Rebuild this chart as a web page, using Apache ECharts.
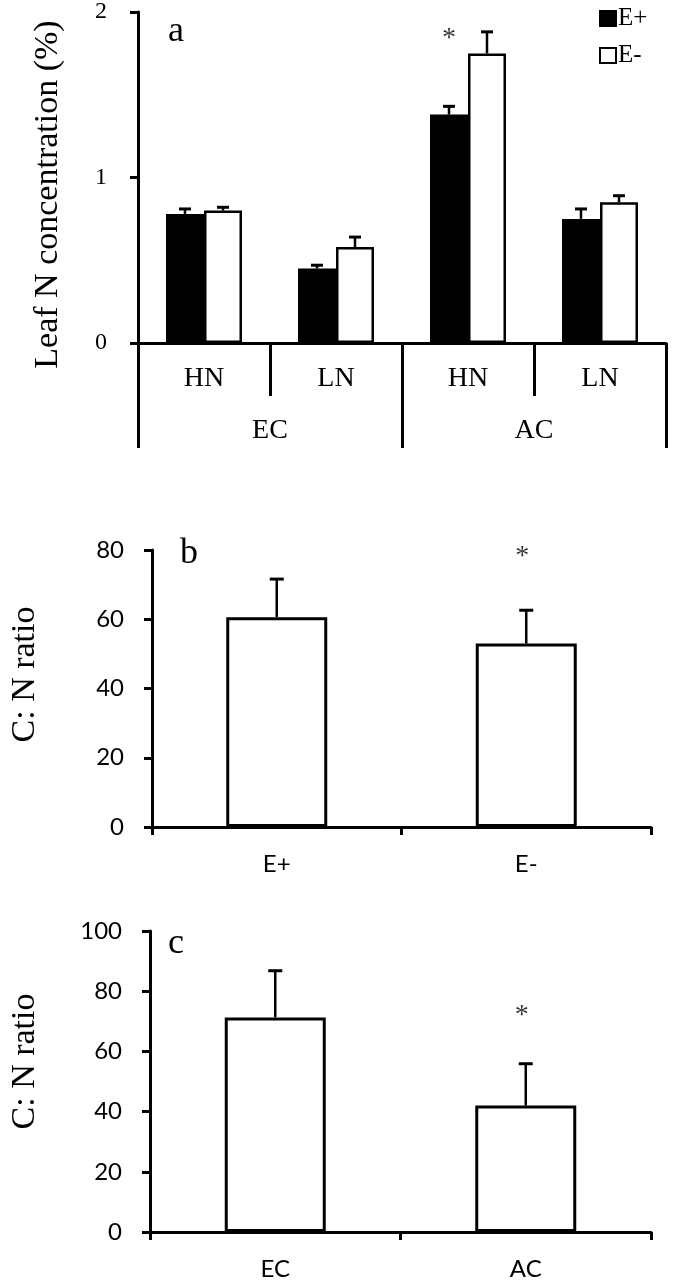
<!DOCTYPE html>
<html>
<head>
<meta charset="utf-8">
<script src="https://cdn.jsdelivr.net/npm/echarts@6/dist/echarts.min.js"></script>
<style>
  html, body { margin: 0; padding: 0; background: #fff; }
  #chart { width: 675px; height: 1285px; }
</style>
</head>
<body>
<div id="chart"></div>
<script>
// panel a: leaf N concentration
const nLevels = ['HN', 'LN', 'HN', 'LN'];
const co2Levels = ['EC', 'AC'];
const ePlus = [0.78, 0.45, 1.38, 0.75];
const ePlusErr = [0.03, 0.02, 0.05, 0.06];
const eMinus = [0.80, 0.58, 1.75, 0.85];
const eMinusErr = [0.02, 0.06, 0.13, 0.04];
const aTicks = [0, 2, 1];          // min, max, interval
const aStar = [[2, 1.84]];         // over AC-HN E+

// panel b: C:N ratio by endophyte
const endoCats = ['E+', 'E-'];
const endoCN = [60.6, 53.0];
const endoErr = [11.0, 9.6];
const bTicks = [0, 80, 20];
const bStar = [[1, 78]];

// panel c: C:N ratio by CO2
const co2Cats = ['EC', 'AC'];
const co2CN = [71.3, 42.0];
const co2Err = [15.5, 13.9];
const cTicks = [0, 100, 20];
const cStar = [[1, 72]];

const serif = '"Liberation Serif", "Times New Roman", serif';
const sans = 'Lato, "Liberation Sans", sans-serif';
const barW = 38;

const chart = echarts.init(document.getElementById('chart'));

function errRender(offset, cap) {
  return function (params, api) {
    const x = api.value(0), v = api.value(1), e = api.value(2);
    const base = api.coord([x, v]);
    const top = api.coord([x, v + e]);
    const cx = base[0] + offset;
    return {
      type: 'group',
      children: [
        { type: 'line', shape: { x1: cx, y1: base[1], x2: cx, y2: top[1] }, style: { stroke: '#000', lineWidth: 2.5 } },
        { type: 'line', shape: { x1: cx - cap / 2, y1: top[1], x2: cx + cap / 2, y2: top[1] }, style: { stroke: '#000', lineWidth: 3 } }
      ]
    };
  };
}

const withIdx = (vals, errs) => vals.map((v, i) => [i, v, errs[i]]);

// namePad shifts the rotated axis title along the axis (right pad = down, left pad = up)
function valueAxis(gridIndex, t, font, size, margin, name, nameGap, namePad) {
  return {
    type: 'value', gridIndex, min: t[0], max: t[1], interval: t[2],
    splitLine: { show: false },
    axisLine: { show: true, lineStyle: { color: '#000', width: 3 } },
    axisTick: { show: true, length: 8, lineStyle: { color: '#000', width: 3 } },
    axisLabel: { color: '#000', fontFamily: font, fontSize: size, margin },
    name, nameLocation: 'middle', nameGap,
    nameTextStyle: { color: '#000', fontFamily: serif, fontSize: 34, padding: namePad }
  };
}

function catAxis(gridIndex, data, font, size, margin, tickLen, showLine) {
  return {
    type: 'category', gridIndex, data, position: 'bottom',
    axisLine: { show: showLine, lineStyle: { color: '#000', width: 3 } },
    axisTick: { show: true, length: tickLen, interval: 0, lineStyle: { color: '#000', width: 3 } },
    axisLabel: { color: '#000', fontFamily: font, fontSize: size, margin, interval: 0 }
  };
}

function starSeries(xi, yi, data, offX) {
  return {
    type: 'scatter', xAxisIndex: xi, yAxisIndex: yi, data,
    symbolSize: 1, itemStyle: { color: 'rgba(0,0,0,0)' }, silent: true,
    label: { show: true, position: 'inside', formatter: '*', offset: [offX, 0],
      color: '#000', fontFamily: serif, fontSize: 28 }
  };
}

chart.setOption({
  backgroundColor: '#fff',
  animation: false,
  grid: [
    { left: 138, top: 12, width: 528, height: 331 },
    { left: 148, top: 550, width: 503, height: 277 },
    { left: 143, top: 931, width: 508, height: 301 }
  ],
  legend: {
    left: 599, top: 6, padding: 0, orient: 'vertical', itemGap: 12,
    itemWidth: 16, itemHeight: 15, icon: 'rect',
    textStyle: { color: '#000', fontFamily: serif, fontSize: 25, padding: [0, 0, 0, -3] },
    data: ['E+', 'E-']
  },
  xAxis: [
    catAxis(0, nLevels, serif, 28, 22, 53, true),
    catAxis(0, co2Levels, serif, 28, 74, 105, false),
    catAxis(1, endoCats, sans, 24, 25, 8, true),
    catAxis(2, co2Cats, sans, 24, 25, 8, true)
  ],
  yAxis: [
    valueAxis(0, aTicks, serif, 24, 31, 'Leaf N concentration (%)', 73, [0, 34, 0, 0]),
    valueAxis(1, bTicks, sans, 24, 28, 'C: N ratio', 110, [0, 0, 0, 28]),
    valueAxis(2, cTicks, sans, 24, 28, 'C: N ratio', 108, [0, 0, 0, 40])
  ],
  graphic: [
    { type: 'text', left: 168, top: 14, style: { text: 'a', font: '36px ' + serif, fill: '#000' } },
    { type: 'text', left: 180, top: 536, style: { text: 'b', font: '36px ' + serif, fill: '#000' } },
    { type: 'text', left: 168, top: 926, style: { text: 'c', font: '36px ' + serif, fill: '#000' } }
  ],
  series: [
    {
      name: 'E+', type: 'bar', xAxisIndex: 0, yAxisIndex: 0, data: ePlus,
      barWidth: barW, barGap: '0%',
      itemStyle: { color: '#000', borderColor: '#000', borderWidth: 2 }
    },
    {
      name: 'E-', type: 'bar', xAxisIndex: 0, yAxisIndex: 0, data: eMinus,
      barWidth: barW, barGap: '0%',
      itemStyle: { color: '#fff', borderColor: '#000', borderWidth: 2.5 }
    },
    {
      type: 'custom', xAxisIndex: 0, yAxisIndex: 0, data: withIdx(ePlus, ePlusErr),
      renderItem: errRender(-barW / 2, 12), silent: true, z: 3
    },
    {
      type: 'custom', xAxisIndex: 0, yAxisIndex: 0, data: withIdx(eMinus, eMinusErr),
      renderItem: errRender(barW / 2, 12), silent: true, z: 3
    },
    starSeries(0, 0, aStar, -barW / 2),
    {
      type: 'bar', xAxisIndex: 2, yAxisIndex: 1, data: endoCN, barWidth: 101,
      itemStyle: { color: '#fff', borderColor: '#000', borderWidth: 3 }
    },
    {
      type: 'custom', xAxisIndex: 2, yAxisIndex: 1, data: withIdx(endoCN, endoErr),
      renderItem: errRender(0, 14), silent: true, z: 3
    },
    starSeries(2, 1, bStar, -4),
    {
      type: 'bar', xAxisIndex: 3, yAxisIndex: 2, data: co2CN, barWidth: 101,
      itemStyle: { color: '#fff', borderColor: '#000', borderWidth: 3 }
    },
    {
      type: 'custom', xAxisIndex: 3, yAxisIndex: 2, data: withIdx(co2CN, co2Err),
      renderItem: errRender(0, 14), silent: true, z: 3
    },
    starSeries(3, 2, cStar, -4)
  ]
});
</script>
</body>
</html>
